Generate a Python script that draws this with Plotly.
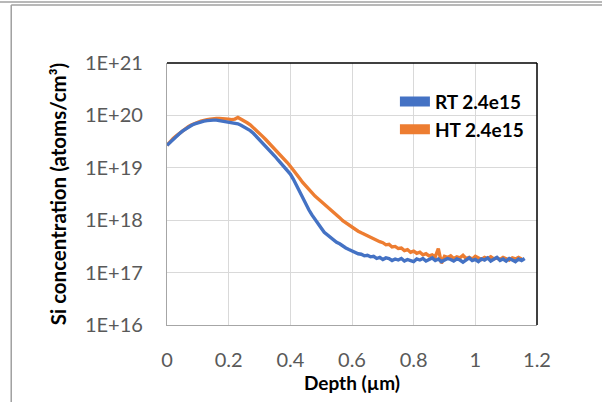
import plotly.graph_objects as go

depth = [
    0.00, 0.01, 0.02, 0.03, 0.04, 0.05, 0.06, 0.07, 0.08, 0.09,
    0.10, 0.11, 0.12, 0.13, 0.14, 0.15, 0.16, 0.17, 0.18, 0.19,
    0.20, 0.21, 0.22, 0.23, 0.24, 0.25, 0.26, 0.27, 0.28, 0.29,
    0.30, 0.31, 0.32, 0.33, 0.34, 0.35, 0.36, 0.37, 0.38, 0.39,
    0.40, 0.41, 0.42, 0.43, 0.44, 0.45, 0.46, 0.47, 0.48, 0.49,
    0.50, 0.51, 0.52, 0.53, 0.54, 0.55, 0.56, 0.57, 0.58, 0.59,
    0.60, 0.61, 0.62, 0.63, 0.64, 0.65, 0.66, 0.67, 0.68, 0.69,
    0.70, 0.71, 0.72, 0.73, 0.74, 0.75, 0.76, 0.77, 0.78, 0.79,
    0.80, 0.81, 0.82, 0.83, 0.84, 0.85, 0.86, 0.87, 0.88, 0.89,
    0.90, 0.91, 0.92, 0.93, 0.94, 0.95, 0.96, 0.97, 0.98, 0.99,
    1.00, 1.01, 1.02, 1.03, 1.04, 1.05, 1.06, 1.07, 1.08, 1.09,
    1.10, 1.11, 1.12, 1.13, 1.14, 1.15, 1.16,
]

rt_conc = [
    2.69e19, 3.09e19, 3.55e19, 3.98e19, 4.47e19, 5.01e19, 5.50e19, 6.03e19, 6.46e19, 6.92e19,
    7.24e19, 7.59e19, 7.76e19, 7.94e19, 8.13e19, 8.13e19, 8.13e19, 7.94e19, 7.94e19, 7.76e19,
    7.59e19, 7.41e19, 7.24e19, 6.92e19, 6.46e19, 6.03e19, 5.62e19, 5.13e19, 4.57e19, 3.98e19,
    3.47e19, 2.95e19, 2.57e19, 2.24e19, 1.95e19, 1.66e19, 1.41e19, 1.20e19, 1.02e19, 8.91e18,
    7.59e18, 6.03e18, 4.57e18, 3.39e18, 2.57e18, 1.95e18, 1.58e18, 1.26e18, 1.02e18, 8.32e17,
    7.08e17, 5.89e17, 5.25e17, 4.57e17, 4.27e17, 3.80e17, 3.55e17, 3.16e17, 2.95e17, 2.75e17,
    2.57e17, 2.40e17, 2.29e17, 2.24e17, 2.09e17, 2.14e17, 2.00e17, 2.04e17, 1.86e17, 1.95e17,
    1.78e17, 1.91e17, 1.86e17, 1.70e17, 1.82e17, 1.74e17, 1.86e17, 1.66e17, 1.78e17, 1.70e17,
    1.62e17, 1.82e17, 1.74e17, 1.86e17, 1.66e17, 1.78e17, 1.91e17, 1.70e17, 1.82e17, 1.62e17,
    1.74e17, 1.86e17, 1.78e17, 1.66e17, 1.82e17, 1.74e17, 1.58e17, 1.78e17, 1.91e17, 1.70e17,
    1.78e17, 1.62e17, 1.82e17, 1.74e17, 1.91e17, 1.66e17, 1.78e17, 1.95e17, 1.70e17, 1.82e17,
    1.66e17, 1.86e17, 1.74e17, 1.62e17, 1.82e17, 1.70e17, 1.86e17,
]

ht_conc = [
    2.69e19, 3.16e19, 3.63e19, 4.07e19, 4.57e19, 5.13e19, 5.62e19, 6.17e19, 6.61e19, 7.08e19,
    7.41e19, 7.76e19, 8.13e19, 8.32e19, 8.51e19, 8.71e19, 8.71e19, 8.71e19, 8.71e19, 8.51e19,
    8.51e19, 8.32e19, 8.51e19, 9.12e19, 8.51e19, 7.76e19, 7.24e19, 6.61e19, 5.89e19, 5.25e19,
    4.57e19, 3.98e19, 3.47e19, 3.02e19, 2.63e19, 2.29e19, 1.95e19, 1.70e19, 1.45e19, 1.26e19,
    1.07e19, 9.12e18, 7.59e18, 6.31e18, 5.25e18, 4.47e18, 3.80e18, 3.31e18, 2.88e18, 2.57e18,
    2.29e18, 2.04e18, 1.82e18, 1.62e18, 1.45e18, 1.26e18, 1.12e18, 9.77e17, 8.91e17, 7.94e17,
    7.24e17, 6.61e17, 6.17e17, 5.75e17, 5.37e17, 5.01e17, 4.79e17, 4.37e17, 4.17e17, 3.89e17,
    3.72e17, 3.39e17, 3.47e17, 3.09e17, 3.16e17, 2.88e17, 2.95e17, 2.63e17, 2.75e17, 2.45e17,
    2.57e17, 2.34e17, 2.45e17, 2.19e17, 2.29e17, 2.09e17, 2.19e17, 2.00e17, 2.88e17, 1.51e17,
    2.04e17, 1.95e17, 2.09e17, 1.86e17, 2.00e17, 1.91e17, 2.14e17, 1.86e17, 1.95e17, 1.82e17,
    2.04e17, 1.91e17, 1.78e17, 1.95e17, 1.86e17, 2.00e17, 1.82e17, 1.91e17, 1.78e17, 1.95e17,
    1.86e17, 1.74e17, 1.91e17, 1.82e17, 1.95e17, 1.82e17,
]

series_names = ["RT 2.4e15", "HT 2.4e15"]
series_colors = ["#4472C4", "#ED7D31"]

x_ticks = [0, 0.2, 0.4, 0.6, 0.8, 1, 1.2]
x_ticktext = ["0", "0.2", "0.4", "0.6", "0.8", "1", "1.2"]
y_tickvals = [1e16, 1e17, 1e18, 1e19, 1e20, 1e21]
y_ticktext = ["1E+16", "1E+17", "1E+18", "1E+19", "1E+20", "1E+21"]

FONT = "Lato, 'Open Sans', sans-serif"

fig = go.Figure()
# data lines (HT drawn first so RT sits on top)
fig.add_trace(go.Scatter(x=depth[:len(ht_conc)], y=ht_conc, mode="lines",
                         line=dict(color=series_colors[1], width=3.4),
                         showlegend=False, hoverinfo="skip"))
fig.add_trace(go.Scatter(x=depth[:len(rt_conc)], y=rt_conc, mode="lines",
                         line=dict(color=series_colors[0], width=3.4),
                         showlegend=False, hoverinfo="skip"))
# legend entries
for name, col in zip(series_names, series_colors):
    fig.add_trace(go.Scatter(x=[None], y=[None], mode="lines", name=name,
                             line=dict(color=col, width=13)))

fig.update_layout(
    width=602, height=402,
    margin=dict(l=167, r=65, t=63, b=77),
    paper_bgcolor="white", plot_bgcolor="white",
    font=dict(family=FONT, size=20, color="#595959"),
    legend=dict(x=0.616, y=0.925, xanchor="left", yanchor="top",
                bgcolor="rgba(255,255,255,0)", itemwidth=30,
                font=dict(family=FONT, size=19, color="black", weight="bold"),
                tracegroupgap=3, itemsizing="trace"),
    xaxis=dict(range=[0, 1.2], tickvals=x_ticks, ticktext=x_ticktext,
               showgrid=True, gridcolor="#d9d9d9", gridwidth=1.2,
               showline=True, linecolor="#a6a6a6", linewidth=1.3,
               zeroline=False, ticks="", ticklabelstandoff=17,
               title=dict(text="Depth (µm)", standoff=6,
                          font=dict(family=FONT, size=19, color="black", weight="bold"))),
    yaxis=dict(type="log", range=[16, 21], tickvals=y_tickvals, ticktext=y_ticktext,
               showgrid=True, gridcolor="#d9d9d9", gridwidth=1.2,
               showline=True, linecolor="#a6a6a6", linewidth=1.3,
               zeroline=False, ticks="", ticklabelstandoff=19,
               title=dict(text="Si concentration (atoms/cm³)", standoff=12,
                          font=dict(family=FONT, size=20.5, color="black", weight="bold"))),
)

# black frame lines on top and right of plot area
fig.add_shape(type="line", xref="paper", yref="paper", x0=0, x1=1, y0=1, y1=1,
              line=dict(color="black", width=1.5))
fig.add_shape(type="line", xref="paper", yref="paper", x0=1, x1=1, y0=0, y1=1,
              line=dict(color="black", width=1.5))
# outer chart-area border (partially cropped in the reference)
fig.add_shape(type="line", xref="paper", yref="paper", x0=-0.46, x1=1.2, y0=1.233, y1=1.233,
              line=dict(color="#a0a0a0", width=1.5))
fig.add_shape(type="line", xref="paper", yref="paper", x0=-0.421, x1=1.2, y0=1.221, y1=1.221,
              line=dict(color="#a0a0a0", width=1.5))
fig.add_shape(type="line", xref="paper", yref="paper", x0=-0.421, x1=-0.421, y0=1.221, y1=-0.3,
              line=dict(color="#a0a0a0", width=1.5))

fig.write_html("out.html", config={"displayModeBar": False},
               post_script="document.body.style.margin='0px';document.body.style.padding='0px';")
